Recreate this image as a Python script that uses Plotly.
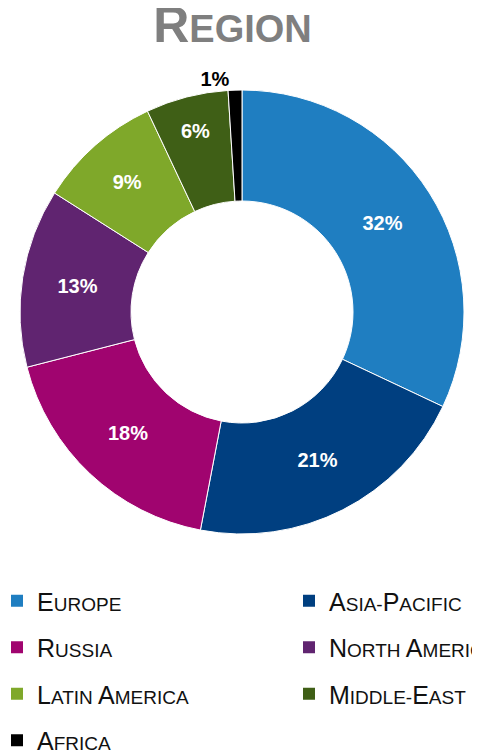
import plotly.graph_objects as go

regions = ["Europe", "Asia-Pacific", "Russia", "North America", "Latin America", "Middle-East", "Africa"]
shares = [32, 21, 18, 13, 9, 6, 1]
colors = ["#1F7EC1", "#003F80", "#A0046F", "#602470", "#7FA82A", "#3F5F16", "#000000"]

# the page is shown with the browser's default 8px body margin
OFF = 8
W, H = 480, 754


def small_caps(word, small=19):
    out = ""
    for i, ch in enumerate(word):
        if ch.isupper() and (i == 0 or word[i - 1] in " -"):
            out += ch
        else:
            out += f"<span style='font-size:{small}px'>{ch.upper()}</span>"
    return out


text_pos = ["inside"] * 6 + ["outside"]

fig = go.Figure()
fig.add_trace(go.Pie(
    labels=regions,
    values=shares,
    hole=0.5,
    sort=False,
    direction="clockwise",
    rotation=0,
    marker=dict(colors=colors, line=dict(color="white", width=1)),
    texttemplate="%{value}%",
    textposition=text_pos,
    insidetextorientation="horizontal",
    insidetextfont=dict(color="white", size=20, family="Liberation Sans"),
    outsidetextfont=dict(color="black", size=20, family="Liberation Sans"),
    textfont=dict(family="Liberation Sans", size=20, weight="bold"),
    domain=dict(x=[(20 - OFF) / W, (464 - OFF) / W],
                y=[1 - (534 - OFF) / H, 1 - (90 - OFF) / H]),
    hoverinfo="skip",
    showlegend=False,
))

# legend entries (two columns, like the reference)
for i, (name, col) in enumerate(zip(regions, colors)):
    fig.add_trace(go.Scatter(
        x=[None], y=[None], mode="markers",
        marker=dict(symbol="square", size=12, color=col),
        name=small_caps(name),
        legend="legend" if i % 2 == 0 else "legend2",
        legendgroup=name,
        showlegend=True,
        hoverinfo="skip",
    ))

legend_common = dict(
    orientation="v",
    yanchor="top",
    y=1 - (578 - OFF) / H,
    xanchor="left",
    font=dict(family="Liberation Sans", size=25, color="#111111"),
    tracegroupgap=11,
    bgcolor="rgba(0,0,0,0)",
    traceorder="grouped",
)

fig.update_layout(
    width=W, height=H,
    margin=dict(l=0, r=0, t=0, b=0, autoexpand=False),
    paper_bgcolor="white",
    plot_bgcolor="white",
    xaxis=dict(visible=False),
    yaxis=dict(visible=False),
    title=dict(
        text="<b><span style='font-size:50px'>R</span>EGION</b>",
        font=dict(family="Liberation Sans", size=38, color="#7F7F7F"),
        x=(232.5 - OFF) / W, xanchor="center", y=1 - (42 - OFF) / H, yanchor="bottom",
    ),
    showlegend=True,
    legend=dict(x=(-3 - OFF) / W, **legend_common),
    legend2=dict(x=(289 - OFF) / W, **legend_common),
)

fig.write_html("out.html")
